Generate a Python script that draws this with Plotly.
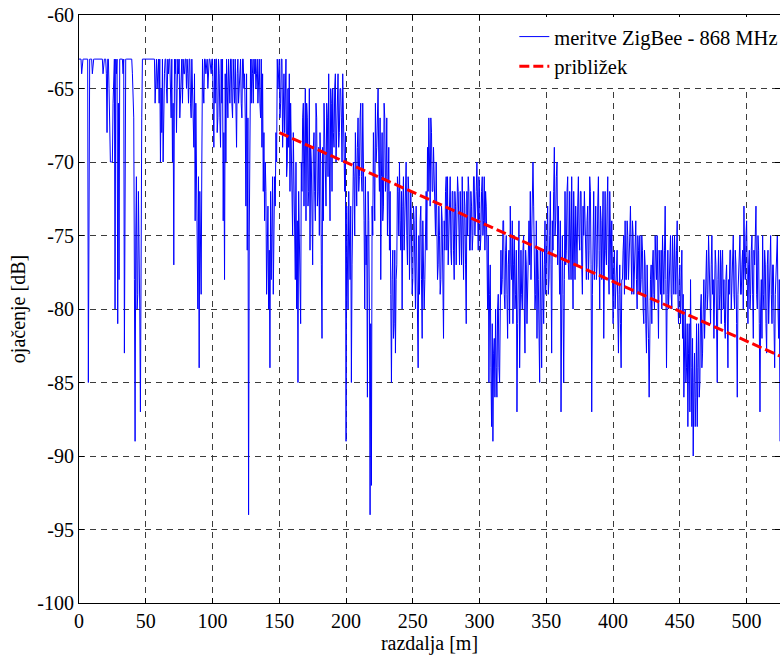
import numpy as np
import plotly.graph_objects as go

# measured gain [dB] at whole metres (0..525 m)
gain_000_049 = [
    -63, -63, -64, -63, -63, -63, -63, -85, -63, -63,
    -64, -63, -63, -63, -63, -63, -63, -63, -64, -63,
    -63, -68, -63, -70, -70, -70, -63, -80, -64, -81,
    -78, -63, -63, -64, -83, -63, -63, -63, -63, -63,
    -64, -67, -89, -71, -79, -75, -87, -67, -63, -63,
]
gain_050_099 = [
    -63, -63, -63, -63, -63, -63, -63, -66, -63, -64,
    -66, -70, -68, -70, -64, -63, -66, -64, -63, -67,
    -70, -77, -64, -68, -63, -63, -65, -63, -63, -64,
    -63, -63, -66, -63, -67, -65, -69, -74, -72, -80,
    -84, -76, -70, -65, -63, -64, -63, -63, -63, -64,
]
gain_100_149 = [
    -63, -69, -66, -63, -67, -64, -69, -66, -74, -78,
    -70, -65, -63, -66, -63, -67, -64, -63, -69, -63,
    -65, -63, -67, -63, -64, -73, -76, -94, -71, -66,
    -64, -63, -63, -64, -66, -63, -67, -69, -72, -74,
    -72, -77, -80, -84, -78, -71, -76, -73, -70, -65,
]
gain_150_199 = [
    -63, -66, -63, -64, -68, -63, -70, -69, -72, -69,
    -75, -71, -78, -80, -85, -76, -81, -72, -66, -70,
    -74, -67, -72, -76, -70, -77, -68, -74, -67, -72,
    -75, -70, -82, -74, -68, -73, -67, -64, -74, -66,
    -65, -69, -64, -67, -64, -68, -65, -70, -66, -72,
]
gain_200_249 = [
    -89, -76, -72, -78, -85, -74, -71, -68, -73, -67,
    -71, -66, -72, -69, -80, -77, -86, -74, -94, -92,
    -75, -71, -66, -69, -65, -72, -78, -68, -73, -67,
    -71, -75, -69, -72, -85, -76, -81, -83, -77, -72,
    -70, -76, -80, -71, -74, -70, -77, -72, -75, -75,
]
gain_250_299 = [
    -78, -74, -80, -76, -84, -79, -73, -82, -76, -78,
    -72, -69, -67, -73, -68, -72, -71, -75, -74, -77,
    -75, -78, -74, -82, -76, -71, -71, -75, -71, -77,
    -72, -78, -73, -75, -72, -77, -74, -71, -78, -73,
    -81, -75, -72, -76, -73, -75, -71, -74, -70, -76,
]
gain_300_349 = [
    -72, -75, -71, -74, -76, -73, -80, -85, -77, -88,
    -89, -82, -80, -86, -79, -85, -76, -78, -74, -80,
    -75, -82, -76, -73, -78, -81, -75, -79, -87, -78,
    -84, -76, -80, -75, -83, -77, -79, -74, -72, -76,
    -70, -76, -79, -82, -78, -85, -80, -76, -81, -74,
]
gain_350_399 = [
    -77, -73, -78, -72, -83, -76, -69, -74, -70, -73,
    -79, -87, -75, -85, -72, -76, -71, -78, -74, -71,
    -80, -75, -73, -77, -71, -76, -72, -79, -75, -74,
    -78, -73, -76, -72, -87, -75, -78, -73, -77, -71,
    -80, -74, -76, -82, -72, -77, -71, -79, -75, -74,
]
gain_400_449 = [
    -81, -76, -79, -76, -83, -77, -84, -78, -75, -74,
    -78, -75, -77, -73, -79, -75, -77, -74, -80, -76,
    -75, -78, -76, -81, -77, -83, -79, -86, -78, -81,
    -76, -80, -77, -75, -82, -78, -76, -75, -79, -73,
    -84, -76, -78, -75, -80, -77, -75, -79, -74, -81,
]
gain_450_499 = [
    -77, -79, -82, -86, -80, -84, -88, -81, -78, -88,
    -90, -83, -86, -88, -81, -85, -79, -83, -78, -80,
    -76, -79, -77, -81, -75, -78, -80, -77, -85, -76,
    -79, -81, -76, -78, -82, -77, -84, -79, -76, -78,
    -75, -80, -77, -86, -78, -75, -79, -76, -73, -78,
]
gain_500_525 = [
    -74, -81, -76, -79, -75, -82, -77, -73, -80, -76,
    -87, -78, -75, -80, -77, -83, -76, -79, -75, -81,
    -77, -84, -78, -75, -82, -89,
]

# measured gain [dB] at half metres (0.5..524.5 m)
half_000_049 = [
    -63, -63, -63, -63, -63, -63, -63, -63, -63, -63,
    -63, -63, -63, -63, -63, -63, -63, -63, -63, -63,
    -64, -63, -65, -70, -70, -66, -63, -63, -63, -66,
    -63, -63, -63, -63, -63, -63, -63, -63, -63, -63,
    -66, -78, -75, -80, -72, -80, -71, -63, -63, -63,
]
half_050_099 = [
    -63, -63, -63, -63, -63, -63, -63, -63, -65, -63,
    -63, -65, -63, -65, -63, -65, -63, -63, -65, -63,
    -66, -63, -63, -65, -64, -67, -63, -66, -64, -63,
    -65, -64, -63, -66, -63, -67, -64, -66, -76, -71,
    -72, -79, -63, -66, -63, -63, -65, -63, -64, -63,
]
half_100_149 = [
    -66, -63, -63, -68, -63, -67, -63, -63, -68, -64,
    -63, -67, -64, -63, -66, -63, -66, -66, -64, -66,
    -63, -66, -63, -65, -67, -64, -67, -75, -63, -63,
    -66, -64, -65, -63, -63, -66, -63, -64, -68, -70,
    -79, -73, -76, -72, -74, -79, -71, -68, -63, -64,
]
half_150_199 = [
    -67, -63, -69, -64, -64, -71, -65, -64, -66, -74,
    -68, -76, -70, -74, -72, -79, -70, -67, -73, -65,
    -66, -73, -65, -69, -75, -69, -72, -66, -73, -69,
    -68, -77, -69, -66, -72, -66, -71, -70, -65, -72,
    -68, -65, -70, -64, -69, -65, -67, -64, -70, -68,
]
half_200_249 = [
    -73, -80, -76, -73, -77, -70, -75, -72, -69, -72,
    -67, -71, -66, -74, -71, -75, -72, -80, -81, -73,
    -68, -74, -70, -66, -70, -67, -71, -74, -66, -72,
    -67, -72, -76, -79, -78, -82, -76, -78, -71, -75,
    -74, -72, -73, -76, -71, -75, -71, -78, -72, -79,
]
half_250_299 = [
    -73, -77, -73, -79, -75, -74, -78, -74, -80, -73,
    -76, -72, -70, -67, -72, -69, -75, -70, -78, -73,
    -79, -73, -78, -74, -72, -76, -77, -72, -76, -72,
    -76, -72, -77, -71, -76, -72, -77, -75, -72, -77,
    -72, -71, -76, -72, -76, -71, -75, -72, -74, -71,
]
half_300_349 = [
    -76, -72, -75, -71, -72, -76, -75, -79, -84, -81,
    -83, -86, -84, -80, -84, -80, -79, -74, -79, -76,
    -79, -77, -81, -77, -74, -77, -80, -76, -81, -74,
    -78, -79, -76, -80, -76, -81, -75, -77, -78, -73,
    -73, -80, -74, -76, -82, -76, -84, -78, -77, -79,
]
half_350_399 = [
    -74, -79, -75, -77, -74, -72, -75, -71, -77, -76,
    -74, -80, -79, -78, -77, -72, -77, -72, -78, -76,
    -72, -78, -76, -73, -75, -72, -77, -73, -72, -78,
    -74, -78, -71, -77, -79, -72, -75, -78, -73, -76,
    -73, -78, -72, -75, -76, -73, -77, -72, -78, -77,
]
half_400_449 = [
    -77, -80, -77, -80, -79, -81, -78, -76, -79, -78,
    -74, -78, -75, -77, -74, -79, -76, -78, -75, -79,
    -79, -75, -80, -76, -81, -77, -82, -80, -77, -77,
    -79, -75, -78, -80, -76, -79, -80, -78, -76, -78,
    -79, -80, -76, -79, -75, -79, -78, -76, -79, -78,
]
half_450_499 = [
    -81, -76, -79, -82, -85, -81, -83, -87, -84, -82,
    -85, -88, -81, -84, -86, -80, -84, -80, -82, -77,
    -80, -75, -80, -77, -79, -82, -76, -80, -78, -80,
    -76, -77, -80, -81, -78, -80, -78, -76, -80, -77,
    -79, -76, -81, -79, -76, -79, -77, -80, -77, -75,
]
half_500_524 = [
    -78, -77, -80, -76, -79, -76, -75, -79, -75, -81,
    -80, -82, -79, -76, -81, -77, -81, -76, -79, -77,
    -81, -79, -77, -80, -78,
]

# fitted approximation (linear fit over 150..525 m)
fit_distance = [150, 525]
fit_gain = [-68.0, -83.2]

x_tick_vals = [0, 50, 100, 150, 200, 250, 300, 350, 400, 450, 500]
x_tick_text = ["0", "50", "100", "150", "200", "250", "300", "350", "400", "450", "500"]
y_tick_vals = [-100, -95, -90, -85, -80, -75, -70, -65, -60]
y_tick_text = ["-100", "-95", "-90", "-85", "-80", "-75", "-70", "-65", "-60"]

whole = (gain_000_049 + gain_050_099 + gain_100_149 + gain_150_199 + gain_200_249
         + gain_250_299 + gain_300_349 + gain_350_399 + gain_400_449 + gain_450_499
         + gain_500_525)
half = (half_000_049 + half_050_099 + half_100_149 + half_150_199 + half_200_249
        + half_250_299 + half_300_349 + half_350_399 + half_400_449 + half_450_499
        + half_500_524)

gain = []
for i, v in enumerate(whole):
    gain.append(v)
    if i < len(half):
        gain.append(half[i])
distance = np.arange(len(gain)) * 0.5

FONT = '"Liberation Serif", "Times New Roman", serif'
GRID = "rgb(60,60,60)"

fig = go.Figure()
fig.add_trace(go.Scatter(
    x=distance, y=gain, mode="lines", name="meritve ZigBee - 868 MHz",
    line=dict(color="#0000ff", width=1),
))
fig.add_trace(go.Scatter(
    x=fit_distance, y=fit_gain, mode="lines", name="približek",
    line=dict(color="#ff0000", width=3, dash="10px,4px"),
))

axis_common = dict(
    showline=True, linecolor="black", linewidth=1, mirror="ticks",
    ticks="inside", ticklen=5, tickcolor="black",
    showgrid=True, gridcolor=GRID, gridwidth=1, griddash="6px,5px",
    zeroline=False, ticklabeloverflow="allow", automargin=False,
    tickfont=dict(family=FONT, size=20, color="black"),
)

fig.update_xaxes(
    range=[0, 525], tickvals=x_tick_vals, ticktext=x_tick_text,
    title=dict(text="razdalja [m]", font=dict(family=FONT, size=20, color="black"), standoff=2),
    **axis_common,
)
fig.update_yaxes(
    range=[-100, -60], tickvals=y_tick_vals, ticktext=y_tick_text,
    title=dict(text="ojačenje [dB]", font=dict(family=FONT, size=20, color="black"), standoff=6),
    **axis_common,
)

fig.update_layout(
    width=780, height=655,
    margin=dict(l=79, r=0, t=15, b=52, autoexpand=False),
    paper_bgcolor="white", plot_bgcolor="white",
    showlegend=True,
    legend=dict(
        x=0.621, y=0.997, xanchor="left", yanchor="top",
        bgcolor="white", borderwidth=0,
        font=dict(family=FONT, size=20.5, color="black"),
        tracegroupgap=0, itemwidth=30,
    ),
    font=dict(family=FONT, size=20, color="black"),
)

# remove the default page margin so the 780x655 figure fills the window exactly
fig.write_html(
    "out.html",
    config={"displayModeBar": False},
    post_script="document.body.style.margin='0';",
)
